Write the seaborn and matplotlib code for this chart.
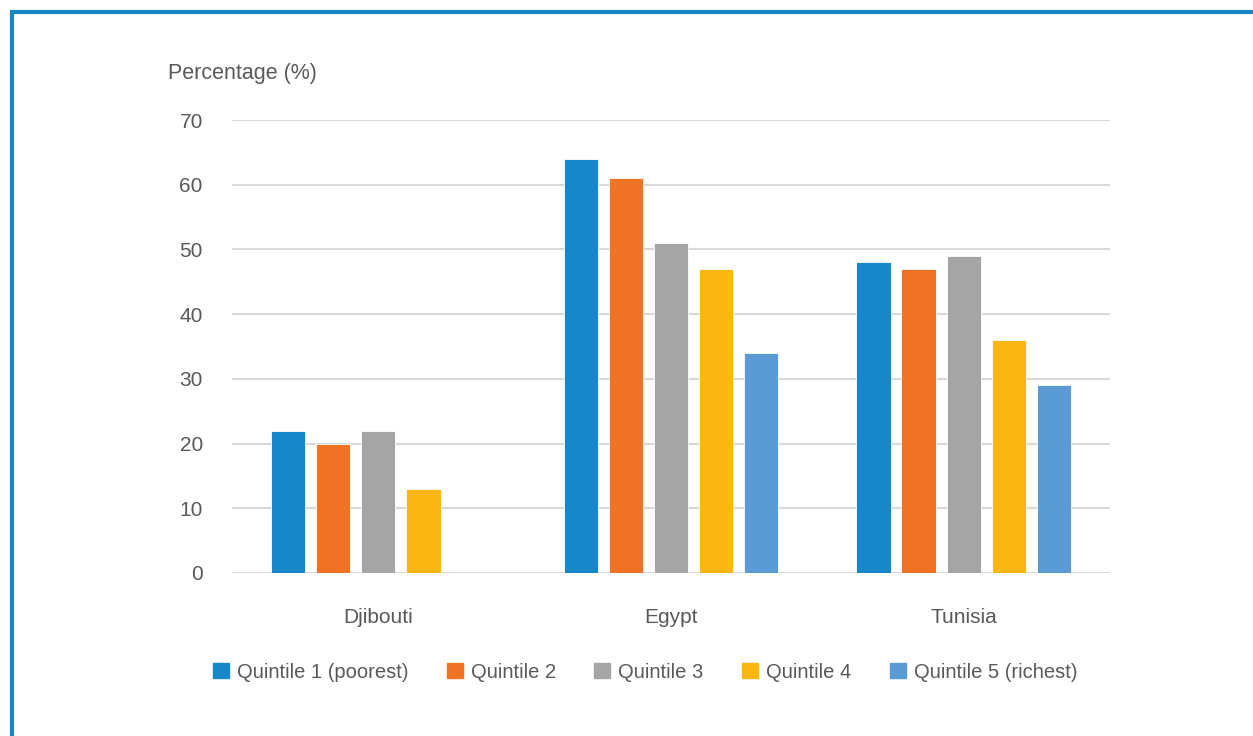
import numpy as np
import pandas as pd
import matplotlib
matplotlib.use("Agg")
import matplotlib.pyplot as plt
import seaborn as sns
from matplotlib.lines import Line2D

countries = ["Djibouti", "Egypt", "Tunisia"]
quintiles = ["Quintile 1 (poorest)", "Quintile 2", "Quintile 3", "Quintile 4", "Quintile 5 (richest)"]
q1 = [22, 64, 48]
q2 = [20, 61, 47]
q3 = [22, 51, 49]
q4 = [13, 47, 36]
q5 = [np.nan, 34, 29]  # no value for Djibouti
colors = ["#1787c9", "#f07225", "#a5a5a5", "#fbb614", "#5b9bd5"]

rows = []
for q, vals in zip(quintiles, [q1, q2, q3, q4, q5]):
    for c, v in zip(countries, vals):
        rows.append({"country": c, "quintile": q, "value": v})
df = pd.DataFrame(rows).dropna()

sns.set_style("white")
plt.rcParams["font.family"] = ["Liberation Sans", "DejaVu Sans"]
text_col = "#595959"

fig = plt.figure(figsize=(12.53, 7.36), dpi=100)
ax = fig.add_axes([232 / 1253, 1 - 573 / 736, 878 / 1253, 453 / 736])

sns.barplot(data=df, x="country", y="value", hue="quintile", order=countries,
            hue_order=quintiles, palette=colors, saturation=1, width=0.77, gap=0.24,
            edgecolor="white", linewidth=0.6, errorbar=None, ax=ax, zorder=3)

ax.set_ylim(0, 70)
ax.set_yticks(range(0, 71, 10))
ax.grid(axis="y", color="#d9d9d9", linewidth=1.5, zorder=0)
ax.set_axisbelow(True)
for s in ax.spines.values():
    s.set_visible(False)
ax.axhline(0, color="#d9d9d9", linewidth=2, zorder=1)
ax.tick_params(axis="y", length=0, pad=21, labelsize=15, labelcolor=text_col)
ax.tick_params(axis="x", length=0, pad=25, labelsize=15, labelcolor=text_col)
ax.set_xlabel("")
ax.set_ylabel("")
ax.legend_.remove()

fig.text(168 / 1253, 1 - 73 / 736, "Percentage (%)", fontsize=15.5, color=text_col,
         ha="left", va="center")

handles = [plt.Rectangle((0, 0), 1, 1, color=c) for c in colors]
fig.legend(handles, quintiles, loc="center", bbox_to_anchor=(645 / 1253, 1 - 672 / 736),
           ncol=5, frameon=False, fontsize=14.5, labelcolor=text_col,
           handlelength=0.8, handleheight=0.8, handletextpad=0.4, columnspacing=1.9)

# blue frame on top and left
border = "#1a87c9"
fig.add_artist(Line2D([10 / 1253, 1], [1 - 11.5 / 736, 1 - 11.5 / 736],
                      transform=fig.transFigure, color=border, linewidth=3, solid_capstyle="butt"))
fig.add_artist(Line2D([11.5 / 1253, 11.5 / 1253], [0, 1 - 10 / 736],
                      transform=fig.transFigure, color=border, linewidth=3, solid_capstyle="butt"))

fig.savefig("out.png", dpi=100)
